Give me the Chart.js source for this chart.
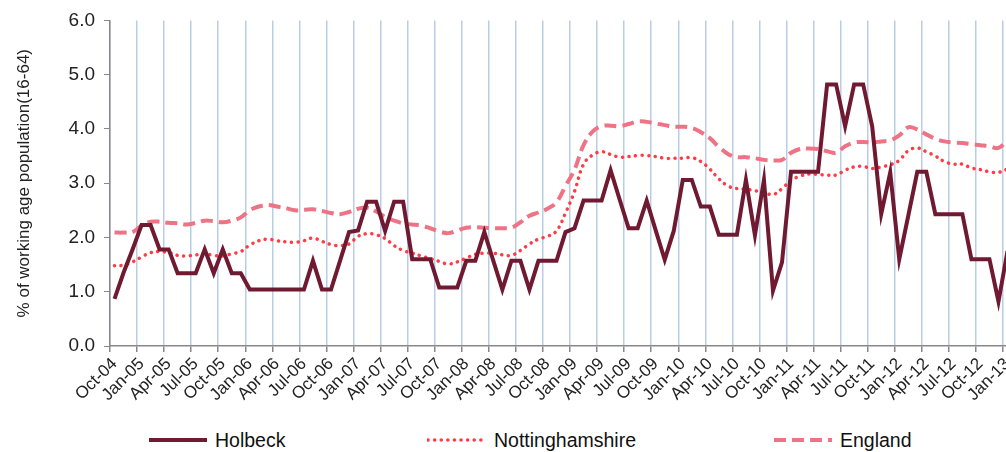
<!DOCTYPE html>
<html>
<head>
<meta charset="utf-8">
<title>Holbeck claimant rate</title>
<script src="https://cdn.jsdelivr.net/npm/chart.js@4.4.0/dist/chart.umd.min.js"></script>
<style>
  html, body { margin: 0; padding: 0; background: #fff; overflow: hidden; }
  #wrap { position: absolute; left: 0; top: 0; width: 1030px; height: 410px; }
  #legend { position: absolute; left: 0; top: 428px; width: 1006px; height: 24px;
            font-family: 'Liberation Sans', Arial, sans-serif; font-size: 19.5px; color: #111; }
  .item { position: absolute; top: 0; height: 24px; display: flex; align-items: center; white-space: nowrap; }
  .item svg { margin-right: 7px; }
</style>
</head>
<body>
<div id="wrap"><canvas id="chart" width="1030" height="410"></canvas></div>
<div id="legend"></div>
<script>
// months, Oct-04 .. Jan-13
const months = [
  'Oct-04', 'Nov-04', 'Dec-04',
  'Jan-05', 'Feb-05', 'Mar-05', 'Apr-05', 'May-05', 'Jun-05', 'Jul-05', 'Aug-05', 'Sep-05', 'Oct-05', 'Nov-05', 'Dec-05',
  'Jan-06', 'Feb-06', 'Mar-06', 'Apr-06', 'May-06', 'Jun-06', 'Jul-06', 'Aug-06', 'Sep-06', 'Oct-06', 'Nov-06', 'Dec-06',
  'Jan-07', 'Feb-07', 'Mar-07', 'Apr-07', 'May-07', 'Jun-07', 'Jul-07', 'Aug-07', 'Sep-07', 'Oct-07', 'Nov-07', 'Dec-07',
  'Jan-08', 'Feb-08', 'Mar-08', 'Apr-08', 'May-08', 'Jun-08', 'Jul-08', 'Aug-08', 'Sep-08', 'Oct-08', 'Nov-08', 'Dec-08',
  'Jan-09', 'Feb-09', 'Mar-09', 'Apr-09', 'May-09', 'Jun-09', 'Jul-09', 'Aug-09', 'Sep-09', 'Oct-09', 'Nov-09', 'Dec-09',
  'Jan-10', 'Feb-10', 'Mar-10', 'Apr-10', 'May-10', 'Jun-10', 'Jul-10', 'Aug-10', 'Sep-10', 'Oct-10', 'Nov-10', 'Dec-10',
  'Jan-11', 'Feb-11', 'Mar-11', 'Apr-11', 'May-11', 'Jun-11', 'Jul-11', 'Aug-11', 'Sep-11', 'Oct-11', 'Nov-11', 'Dec-11',
  'Jan-12', 'Feb-12', 'Mar-12', 'Apr-12', 'May-12', 'Jun-12', 'Jul-12', 'Aug-12', 'Sep-12', 'Oct-12', 'Nov-12', 'Dec-12',
  'Jan-13'
];

const holbeck = [
  0.87, 1.35, 1.78, 2.23, 2.23, 1.78, 1.78, 1.34, 1.34, 1.34,
  1.78, 1.34, 1.78, 1.34, 1.34, 1.04, 1.04, 1.04, 1.04, 1.04,
  1.04, 1.04, 1.57, 1.04, 1.04, 1.57, 2.10, 2.13, 2.66, 2.66,
  2.12, 2.66, 2.66, 1.60, 1.60, 1.60, 1.08, 1.08, 1.08, 1.57,
  1.57, 2.10, 1.57, 1.04, 1.57, 1.57, 1.04, 1.57, 1.57, 1.57,
  2.10, 2.17, 2.68, 2.68, 2.68, 3.24, 2.70, 2.17, 2.17, 2.68,
  2.13, 1.59, 2.12, 3.06, 3.06, 2.57, 2.57, 2.05, 2.05, 2.05,
  3.06, 2.04, 3.06, 1.02, 1.54, 3.21, 3.21, 3.21, 3.21, 4.82,
  4.82, 4.05, 4.82, 4.82, 4.05, 2.43, 3.20, 1.60, 2.40, 3.21,
  3.21, 2.43, 2.43, 2.43, 2.43, 1.60, 1.60, 1.60, 0.82, 1.75
];

const notts = [
  1.48, 1.49, 1.55, 1.64, 1.72, 1.74, 1.72, 1.67, 1.66, 1.68,
  1.70, 1.67, 1.66, 1.70, 1.74, 1.86, 1.94, 1.97, 1.94, 1.92,
  1.91, 1.94, 1.99, 1.93, 1.87, 1.85, 1.88, 2.02, 2.07, 2.05,
  1.98, 1.85, 1.76, 1.71, 1.66, 1.61, 1.56, 1.51, 1.55, 1.62,
  1.69, 1.71, 1.71, 1.68, 1.67, 1.76, 1.88, 1.97, 2.02, 2.12,
  2.45, 2.85, 3.35, 3.52, 3.58, 3.53, 3.48, 3.49, 3.51, 3.51,
  3.49, 3.46, 3.46, 3.46, 3.47, 3.40, 3.26, 3.08, 2.95, 2.90,
  2.89, 2.86, 2.83, 2.79, 2.90, 3.05, 3.13, 3.17, 3.16, 3.15,
  3.15, 3.24, 3.30, 3.31, 3.27, 3.30, 3.34, 3.42, 3.60, 3.65,
  3.58, 3.50, 3.40, 3.35, 3.35, 3.28, 3.25, 3.21, 3.20, 3.26
];

const england = [
  2.09, 2.09, 2.10, 2.22, 2.29, 2.29, 2.27, 2.26, 2.24, 2.27,
  2.31, 2.30, 2.28, 2.31, 2.37, 2.50, 2.57, 2.60, 2.57, 2.54,
  2.50, 2.51, 2.52, 2.49, 2.45, 2.43, 2.47, 2.53, 2.55, 2.48,
  2.38, 2.31, 2.26, 2.24, 2.22, 2.17, 2.11, 2.08, 2.13, 2.18,
  2.19, 2.18, 2.17, 2.17, 2.18, 2.28, 2.40, 2.46, 2.53, 2.65,
  2.95, 3.25, 3.70, 3.95, 4.05, 4.06, 4.05, 4.09, 4.14, 4.13,
  4.10, 4.07, 4.04, 4.04, 4.02, 3.94, 3.83, 3.67, 3.54, 3.48,
  3.48, 3.46, 3.43, 3.42, 3.43, 3.56, 3.63, 3.64, 3.63, 3.59,
  3.56, 3.68, 3.75, 3.76, 3.75, 3.77, 3.79, 3.88, 4.03, 3.99,
  3.90, 3.82, 3.77, 3.75, 3.74, 3.72, 3.70, 3.68, 3.65, 3.80
];

const yTitle = '% of working age population(16-64)';

const FONT = "'Liberation Sans', Arial, sans-serif";
const AXIS = '#888888';
const GRID = '#B9CDE5';
const CLEAR = 'rgba(0,0,0,0)';

const chart = new Chart(document.getElementById('chart'), {
  type: 'line',
  data: {
    labels: months,
    datasets: [{
      label: 'Holbeck',
      data: holbeck,
      borderColor: '#701A32',
      borderWidth: 4,
      tension: 0
    }, {
      label: 'Nottinghamshire',
      data: notts,
      borderColor: '#FF3C44',
      borderWidth: 3.5,
      borderDash: [0.1, 6.5],
      borderCapStyle: 'round',
      tension: 0.4
    }, {
      label: 'England',
      data: england,
      borderColor: '#EE7384',
      borderWidth: 4,
      borderDash: [12, 6],
      tension: 0.4
    }]
  },
  options: {
    responsive: false,
    animation: false,
    devicePixelRatio: 1,
    layout: { padding: { left: 5, top: 19, right: 18, bottom: 0 } },
    elements: { point: { radius: 0 } },
    plugins: {
      legend: { display: false },
      tooltip: { enabled: false }
    },
    scales: {
      x: {
        offset: true,
        grid: {
          offset: true,
          lineWidth: 1.5,
          color: ctx => ctx.index % 3 === 0 ? GRID : CLEAR,
          drawTicks: true,
          tickLength: 6,
          tickColor: ctx => ctx.index % 3 === 0 ? AXIS : CLEAR
        },
        border: { color: AXIS, width: 1.5 },
        ticks: {
          autoSkip: false,
          maxRotation: 45,
          minRotation: 45,
          padding: 2,
          color: '#222',
          font: { family: FONT, size: 17 },
          callback: function(v, i) { return i % 3 === 0 ? this.getLabelForValue(v) : ''; }
        },
        afterFit: s => { s.height = 64; }
      },
      y: {
        min: 0,
        max: 6,
        grid: { drawOnChartArea: false, drawTicks: true, tickLength: 6, tickColor: AXIS },
        border: { color: AXIS, width: 1.5 },
        ticks: {
          stepSize: 1,
          padding: 9,
          color: '#222',
          font: { family: FONT, size: 19 },
          callback: v => v.toFixed(1)
        },
        title: {
          display: true,
          text: yTitle,
          color: '#222',
          font: { family: FONT, size: 17 },
          padding: { top: 9, bottom: 0 }
        },
        afterFit: s => { s.width = 105; }
      }
    }
  }
});

// html legend built from the datasets
const legendLeft = [148, 427, 773];
const legendBox = document.getElementById('legend');
chart.data.datasets.forEach((ds, i) => {
  const item = document.createElement('div');
  item.className = 'item';
  item.style.left = legendLeft[i] + 'px';
  const dash = ds.borderDash ? ds.borderDash.join(' ') : 'none';
  const cap = ds.borderCapStyle || 'butt';
  item.innerHTML =
    '<svg width="60" height="12"><line x1="1" y1="6" x2="59" y2="6" stroke="' + ds.borderColor +
    '" stroke-width="' + ds.borderWidth + '" stroke-dasharray="' + dash + '" stroke-linecap="' + cap + '"/></svg>' +
    '<span>' + ds.label + '</span>';
  legendBox.appendChild(item);
});
</script>
</body>
</html>
